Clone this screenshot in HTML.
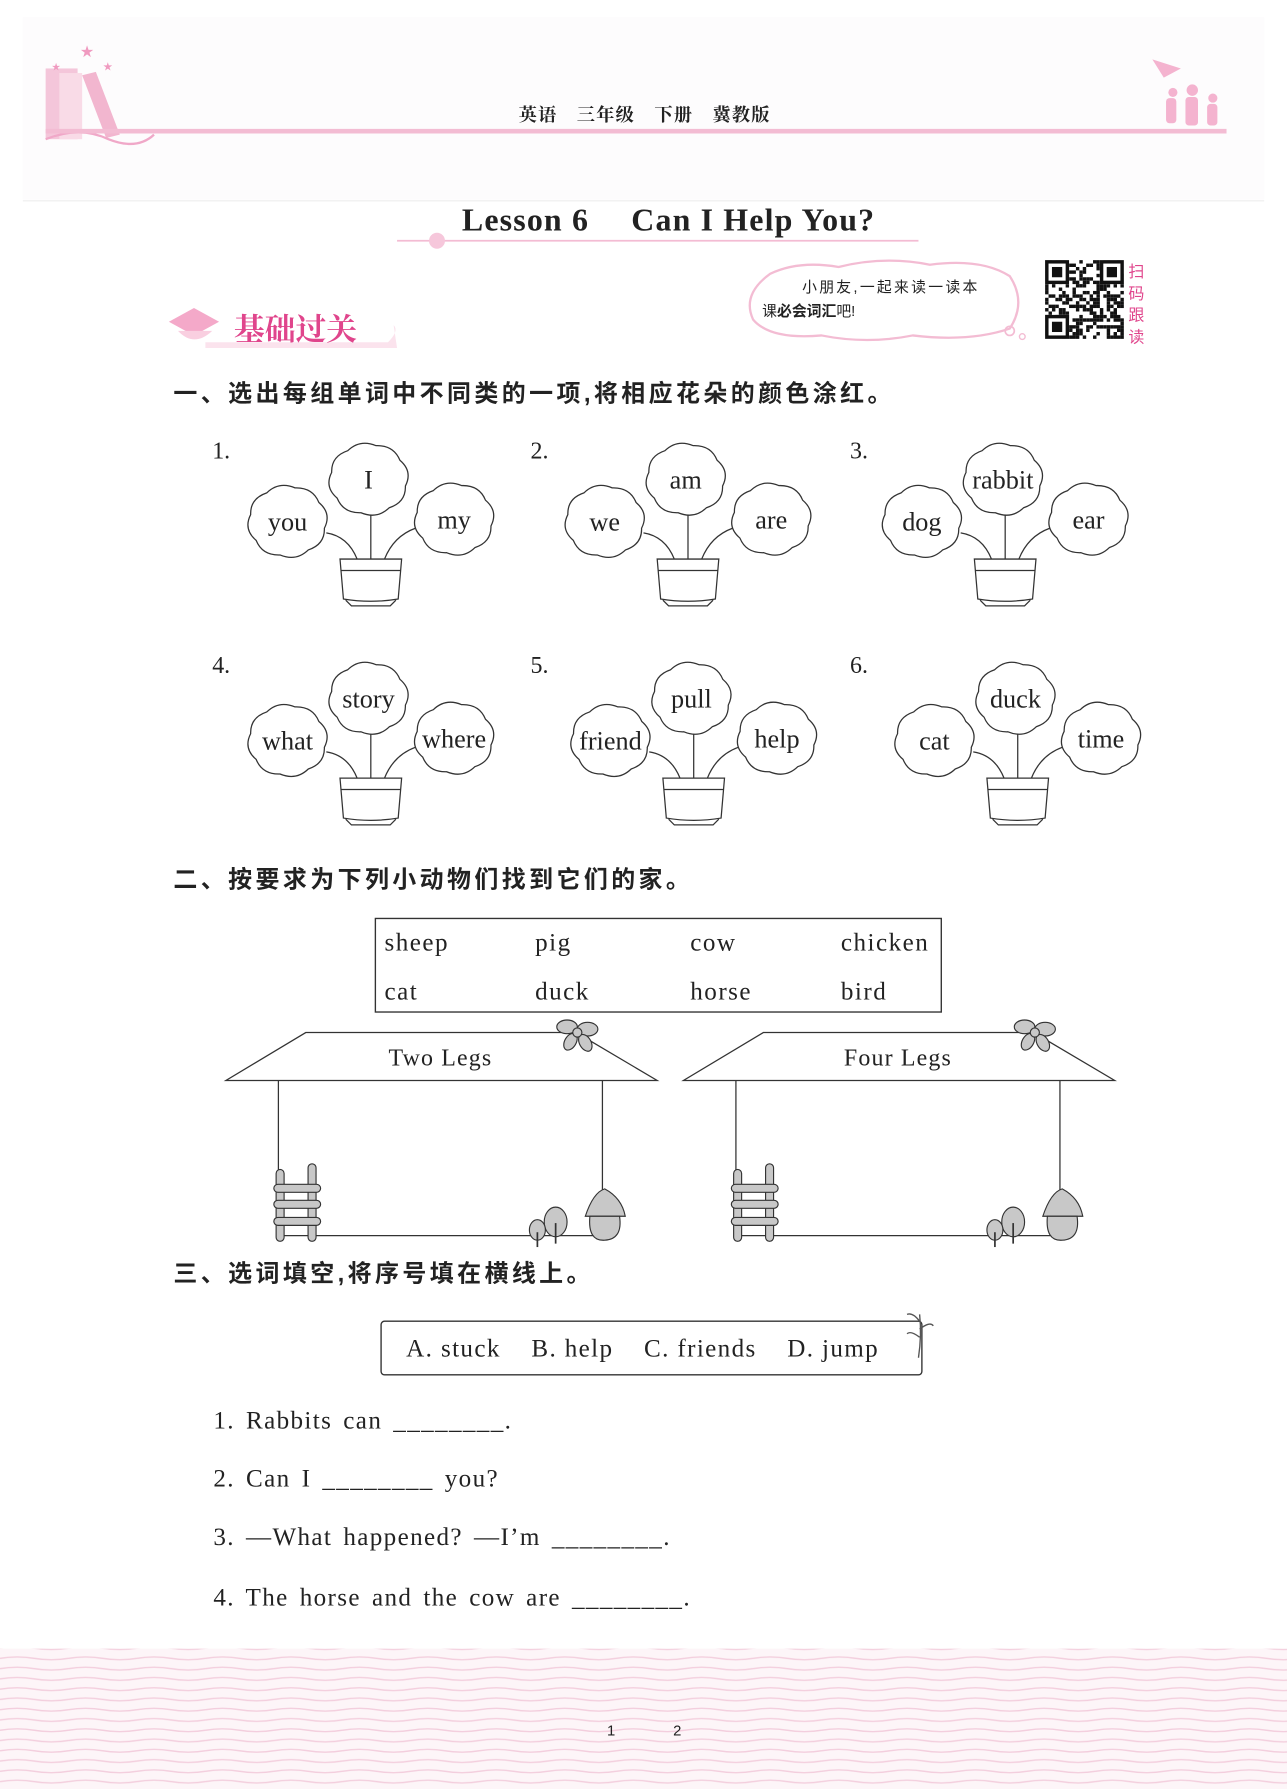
<!DOCTYPE html>
<html><head><meta charset="utf-8">
<style>
html,body{margin:0;padding:0;background:#fff;}
svg{display:block;}
.s{font-family:"Liberation Serif","Noto Serif CJK SC",serif;fill:#222;}
.c{font-family:"Liberation Sans","Noto Sans CJK SC",sans-serif;fill:#222;}
</style></head>
<body>
<svg id="g" width="1287" height="1789" viewBox="0 0 1128 1568" xmlns="http://www.w3.org/2000/svg">
<defs>
<pattern id="wv" width="60" height="9" patternUnits="userSpaceOnUse">
<path d="M0 4.5 Q15 2 30 4.5 T60 4.5" stroke="#f3cedd" stroke-width="1.2" fill="none"/>
</pattern>
</defs>
<rect width="1128" height="1568" fill="#fff"/>
<!-- header -->
<rect x="20" y="15" width="1088" height="160" fill="#fdfcfd"/>
<line x1="20" y1="176" x2="1108" y2="176" stroke="#eee" stroke-width="1"/>
<rect x="40" y="60" width="28" height="62" fill="#f4c6da"/>
<rect x="52" y="64" width="20" height="58" fill="#f9dbe7"/>
<polygon points="72,66 84,63 105,118 93,121" fill="#f2b6cf"/>
<text x="70" y="50" fill="#f09ac0" font-size="14">★</text>
<text x="90" y="62" fill="#f09ac0" font-size="10">★</text>
<text x="45" y="62" fill="#f09ac0" font-size="9">★</text>
<path d="M40 122 Q70 110 95 122 Q120 132 135 118" stroke="#f0a8c8" stroke-width="2" fill="none"/>
<line x1="40" y1="115" x2="1075" y2="115" stroke="#f3bcd3" stroke-width="4"/>
<text x="565" y="106" class="s" font-size="16" text-anchor="middle" font-weight="bold" letter-spacing="1">英语　三年级　下册　冀教版</text>
<g fill="#f4b3cf">
<circle cx="1028" cy="81" r="4"/><rect x="1022" y="86" width="9" height="22" rx="3"/>
<circle cx="1045" cy="79" r="5"/><rect x="1039" y="85" width="11" height="25" rx="3"/>
<circle cx="1063" cy="86" r="4"/><rect x="1058" y="91" width="9" height="19" rx="3"/>
<polygon points="1010,52 1035,60 1020,68"/>
</g>
<!-- title -->
<text x="586" y="202" class="s" font-size="28" font-weight="bold" text-anchor="middle" letter-spacing="1">Lesson 6　 Can I Help You?</text>
<line x1="348" y1="211" x2="805" y2="211" stroke="#f3bcd3" stroke-width="1.5"/>
<circle cx="383" cy="211" r="7" fill="#f6c7db"/>
<!-- bubble -->
<path d="M675 240 Q700 228 735 234 Q775 224 815 232 Q860 226 885 242 Q900 265 885 288 Q850 300 800 294 Q760 302 720 294 Q675 298 660 280 Q650 258 675 240Z" fill="#fff" stroke="#f3bcd3" stroke-width="2"/>
<circle cx="885" cy="290" r="4" fill="none" stroke="#f3bcd3" stroke-width="1.5"/>
<circle cx="896" cy="295" r="2.5" fill="none" stroke="#f3bcd3" stroke-width="1.2"/>
<text x="703" y="256" class="c" font-size="13" letter-spacing="2">小朋友,一起来读一读本</text>
<text x="668" y="277" class="c" font-size="13">课<tspan font-weight="bold">必会词汇</tspan>吧!</text>
<!-- qr -->
<rect x="916" y="228" width="69" height="69" fill="#fff"/>
<g id="qr"></g>
<text x="989" y="243" style="fill:#e0458c" class="c" font-size="14">扫</text>
<text x="989" y="262" style="fill:#e0458c" class="c" font-size="14">码</text>
<text x="989" y="281" style="fill:#e0458c" class="c" font-size="14">跟</text>
<text x="989" y="300" style="fill:#e0458c" class="c" font-size="14">读</text>
<!-- 基础过关 -->
<path d="M180 300 L340 300 Q350 290 345 285 L348 305 L180 305Z" fill="#fbe3ed"/>
<polygon points="170,270 192,282 170,294 148,282" fill="#f4a9c9"/>
<path d="M156 290 Q170 305 186 290" fill="#f9cfe0"/>
<text x="205" y="298" font-family="Liberation Serif,'Noto Serif CJK SC',serif" font-size="27" font-weight="bold" fill="#e0458c">基础过关</text>
<!-- headings -->
<text x="152" y="352" class="c" font-size="21" font-weight="bold" letter-spacing="3">一、选出每组单词中不同类的一项,将相应花朵的颜色涂红。</text>
<text x="152" y="778" class="c" font-size="21" font-weight="bold" letter-spacing="3">二、按要求为下列小动物们找到它们的家。</text>
<text x="152" y="1123" class="c" font-size="21" font-weight="bold" letter-spacing="3">三、选词填空,将序号填在横线上。</text>
<g id="flowers"></g>
<!-- numbers -->
<g class="s" font-size="21">
<text x="186" y="402" class="s">1.</text><text x="465" y="402" class="s">2.</text><text x="745" y="402" class="s">3.</text>
<text x="186" y="590" class="s">4.</text><text x="465" y="590" class="s">5.</text><text x="745" y="590" class="s">6.</text>
</g>
<!-- word box -->
<rect x="329" y="805" width="496" height="82" fill="none" stroke="#333" stroke-width="1.2"/>
<g class="s" font-size="22" letter-spacing="1.3">
<text x="337" y="833" class="s">sheep</text><text x="469" y="833" class="s">pig</text><text x="605" y="833" class="s">cow</text><text x="737" y="833" class="s">chicken</text>
<text x="337" y="876" class="s">cat</text><text x="469" y="876" class="s">duck</text><text x="605" y="876" class="s">horse</text><text x="737" y="876" class="s">bird</text>
</g>
<g id="houses"></g>
<!-- options -->
<rect x="334" y="1158" width="474" height="47" rx="3" fill="none" stroke="#333" stroke-width="1.2"/>
<text x="356" y="1189" class="s" font-size="22" letter-spacing="1.2" xml:space="preserve">A. stuck    B. help    C. friends    D. jump</text>
<path d="M805 1190 Q808 1170 806 1152 M806 1165 Q815 1158 818 1162 M806 1172 Q798 1166 795 1169 M806 1158 Q800 1150 795 1152" stroke="#555" fill="none" stroke-width="1.2"/>
<g class="s" font-size="22" letter-spacing="1.2" word-spacing="3">
<text x="187" y="1252" class="s">1. Rabbits can ________.</text>
<text x="187" y="1303" class="s">2. Can I ________ you?</text>
<text x="187" y="1354" class="s">3. —What happened? —I’m ________.</text>
<text x="187" y="1407" class="s">4. The horse and the cow are ________.</text>
</g>
<!-- bottom -->
<rect x="0" y="1445" width="1128" height="123" fill="#fdf5f8"/>
<rect x="0" y="1445" width="1128" height="123" fill="url(#wv)"/>
<text x="532" y="1521" class="c" font-size="13">1</text>
<text x="590" y="1521" class="c" font-size="13">2</text>
</svg>
<script>
var NS="http://www.w3.org/2000/svg";
function el(p,t,a,txt){var e=document.createElementNS(NS,t);for(var k in a)e.setAttribute(k,a[k]);if(txt)e.textContent=txt;p.appendChild(e);return e;}
function cloud(g,cx,cy,rx,ry){var n=8,d="";for(var i=0;i<=n;i++){var a=i/n*2*Math.PI-Math.PI/2+0.2;var x=cx+rx*Math.cos(a),y=cy+ry*Math.sin(a);if(i==0)d+="M"+x.toFixed(1)+" "+y.toFixed(1);else{var am=(i-0.5)/n*2*Math.PI-Math.PI/2+0.2;var qx=cx+rx*1.2*Math.cos(am),qy=cy+ry*1.2*Math.sin(am);d+=" Q"+qx.toFixed(1)+" "+qy.toFixed(1)+" "+x.toFixed(1)+" "+y.toFixed(1);}}
el(g,"path",{d:d+"Z",fill:"#fff",stroke:"#333","stroke-width":"1.1"});}
var F=document.getElementById("flowers");
var data=[[325,0,["you","I","my"]],[603,0,["we","am","are"]],[881,0,["dog","rabbit","ear"]],[325,192,["what","story","where"]],[608,192,["friend","pull","help"]],[892,192,["cat","duck","time"]]];
data.forEach(function(f){var x=f[0],dy=f[1],w=f[2];var L=[x-73,457+dy],T=[x-2,420+dy],R=[x+73,455+dy];
el(F,"path",{d:"M"+(x-12)+" "+(490+dy)+" Q"+(x-20)+" "+(470+dy)+" "+(L[0]+34)+" "+(L[1]+10),fill:"none",stroke:"#333","stroke-width":"1.1"});
el(F,"path",{d:"M"+(x+12)+" "+(490+dy)+" Q"+(x+20)+" "+(470+dy)+" "+(R[0]-34)+" "+(R[1]+8),fill:"none",stroke:"#333","stroke-width":"1.1"});
el(F,"line",{x1:x,y1:490+dy,x2:x,y2:T[1]+30,stroke:"#333","stroke-width":"1.1"});
[L,T,R].forEach(function(p,i){cloud(F,p[0],p[1],33,30);el(F,"text",{x:p[0],y:p[1]+8,"text-anchor":"middle","font-size":"23",class:"s"},w[i]);});
el(F,"path",{d:"M"+(x-27)+" "+(490+dy)+" H"+(x+27)+" L"+(x+24)+" "+(525+dy)+" Q"+x+" "+(529+dy)+" "+(x-24)+" "+(525+dy)+"Z",fill:"#fff",stroke:"#333","stroke-width":"1.1"});
el(F,"line",{x1:x-26,y1:500+dy,x2:x+26,y2:500+dy,stroke:"#333","stroke-width":"1.1"});
el(F,"path",{d:"M"+(x-22)+" "+(526+dy)+" L"+(x-17)+" "+(531+dy)+" H"+(x+17)+" L"+(x+22)+" "+(526+dy),fill:"none",stroke:"#333","stroke-width":"1.1"});
});
var H=document.getElementById("houses");
[[0,"Two Legs"],[401,"Four Legs"]].forEach(function(h){var o=h[0],st={stroke:"#333","stroke-width":"1.1",fill:"none"};
el(H,"polygon",{points:(268+o)+",905 "+(505+o)+",905 "+(576+o)+",947 "+(198+o)+",947",fill:"#fff",stroke:"#333","stroke-width":"1.1"});
el(H,"text",{x:386+o,y:934,"text-anchor":"middle","font-size":"21",class:"s","letter-spacing":"1"},h[1]);
el(H,"polyline",Object.assign({points:(244+o)+",947 "+(244+o)+",1083 "+(528+o)+",1083 "+(528+o)+",947"},st));
var g={fill:"#c8c8c8",stroke:"#333","stroke-width":"1"};
el(H,"rect",Object.assign({x:242+o,y:1025,width:7,height:63,rx:3.5},g));
el(H,"rect",Object.assign({x:270+o,y:1020,width:7,height:68,rx:3.5},g));
[1038,1052,1067].forEach(function(y){el(H,"rect",Object.assign({x:240+o,y:y,width:41,height:7,rx:3.5},g));});
el(H,"path",Object.assign({d:"M"+(513+o)+" 1066 Q"+(520+o)+" 1045 "+(530+o)+" 1042 Q"+(545+o)+" 1050 "+(548+o)+" 1066 Z"},g));
el(H,"path",Object.assign({d:"M"+(517+o)+" 1066 H"+(543+o)+" Q"+(546+o)+" 1086 "+(530+o)+" 1087 Q"+(515+o)+" 1088 "+(517+o)+" 1066Z"},g));
el(H,"ellipse",Object.assign({cx:487+o,cy:1071,rx:10,ry:13},g));
el(H,"line",{x1:487+o,y1:1072,x2:487+o,y2:1090,stroke:"#333","stroke-width":"1.5"});
el(H,"ellipse",Object.assign({cx:471+o,cy:1078,rx:7,ry:9},g));
el(H,"line",{x1:471+o,y1:1080,x2:471+o,y2:1093,stroke:"#333","stroke-width":"1.5"});
el(H,"ellipse",Object.assign({cx:497+o,cy:900,rx:9,ry:6},g));
el(H,"ellipse",Object.assign({cx:515+o,cy:902,rx:9,ry:6},g));
el(H,"ellipse",Object.assign({cx:500+o,cy:913,rx:5,ry:8,transform:"rotate(30 "+(500+o)+" 913)"},g));
el(H,"ellipse",Object.assign({cx:513+o,cy:914,rx:5,ry:8,transform:"rotate(-30 "+(513+o)+" 914)"},g));
el(H,"circle",Object.assign({cx:506+o,cy:905,r:4},g));
});
var Q=document.getElementById("qr");var s=12345;function rnd(){s=(s*9301+49297)%233280;return s/233280;}
for(var i=0;i<23;i++)for(var j=0;j<23;j++){if(rnd()<0.5)el(Q,"rect",{x:916+i*3,y:228+j*3,width:3,height:3,fill:"#111"});}
[[916,228],[964,228],[916,276]].forEach(function(p){el(Q,"rect",{x:p[0],y:p[1],width:21,height:21,fill:"#fff"});el(Q,"rect",{x:p[0]+1.5,y:p[1]+1.5,width:18,height:18,fill:"none",stroke:"#111","stroke-width":"3"});el(Q,"rect",{x:p[0]+6,y:p[1]+6,width:9,height:9,fill:"#111"});});
</script>
</body></html>
